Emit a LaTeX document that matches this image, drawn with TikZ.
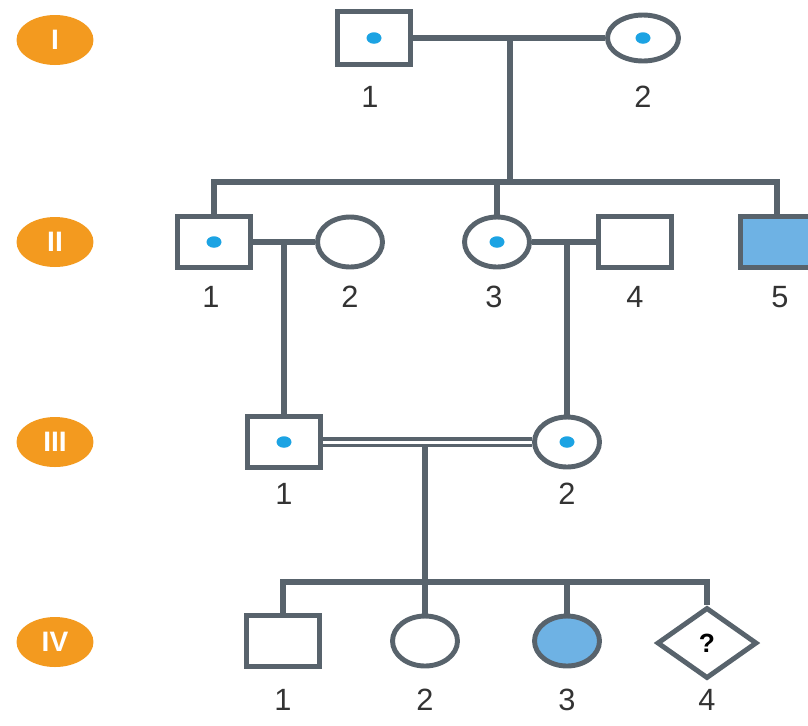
\documentclass[tikz,border=0pt]{standalone}
\usepackage{fontspec}
\setmainfont{Liberation Sans}
\usetikzlibrary{shapes.geometric, calc, positioning}
\definecolor{pedline}{HTML}{58636C}
\definecolor{pedfill}{HTML}{6EB2E4}
\definecolor{peddot}{HTML}{1CA3E3}
\definecolor{pedgen}{HTML}{F39A1F}

\begin{document}
\begin{tikzpicture}[x=0.02cm, y=-0.02cm,
  male/.style={draw=pedline, line width=3.2pt, rectangle, fill=white, minimum width=1.46cm, minimum height=1.02cm, inner sep=0pt},
  female/.style={draw=pedline, line width=2.8pt, ellipse, fill=white, minimum width=1.3cm, minimum height=1.0cm, inner sep=0pt},
  carrier/.style={path picture={\fill[peddot] (path picture bounding box.center) ellipse (0.15cm and 0.115cm);}},
  affected/.style={fill=pedfill},
  unknown/.style={draw=pedline, line width=2.8pt, diamond, fill=white, minimum width=2.0cm, minimum height=1.42cm, inner sep=0pt, font=\fontsize{15}{15}\selectfont\bfseries},
  genbadge/.style={ellipse, fill=pedgen, text=white, minimum width=1.54cm, minimum height=1.0cm, inner sep=0pt, font=\fontsize{16}{16}\selectfont\bfseries},
  num/.style={text=black!80, font=\fontsize{17.5}{17.5}\selectfont},
  pedlink/.style={draw=pedline, line width=2.9pt},
  consang/.style={draw=pedline, line width=2pt, double=white, double distance=1.7pt}]
  \useasboundingbox (0,0) rectangle (808,725);

  % generation markers
  \node[genbadge] (gI) at (55,40) {I};
  \node[genbadge] (gII) at (55,242) {II};
  \node[genbadge] (gIII) at (55,442) {III};
  \node[genbadge] (gIV) at (55,642) {IV};

  % generation I
  \node[male, carrier, minimum height=1.06cm] (I1) at (374,38) {};
  \node[female, carrier, minimum width=1.42cm, minimum height=0.92cm] (I2) at (643,38) {};
  \node[num] (I1n) at (370,97) {1};
  \node[num] (I2n) at (643,97) {2};

  % generation II
  \node[male, carrier] (II1) at (214,242) {};
  \node[female] (II2) at (350,242) {};
  \node[female, carrier] (II3) at (497,242) {};
  \node[male] (II4) at (635,242) {};
  \node[male, affected] (II5) at (777,242) {};
  \node[num] (II1n) at (211,297) {1};
  \node[num] (II2n) at (350,297) {2};
  \node[num] (II3n) at (494,297) {3};
  \node[num] (II4n) at (635,297) {4};
  \node[num] (II5n) at (780,297) {5};

  % generation III
  \node[male, carrier] (III1) at (284,442) {};
  \node[female, carrier] (III2) at (567,442) {};
  \node[num] (III1n) at (284,494) {1};
  \node[num] (III2n) at (567,494) {2};

  % generation IV
  \node[male] (IV1) at (283,641) {};
  \node[female] (IV2) at (425,641) {};
  \node[female, affected] (IV3) at (567,641) {};
  \node[unknown] (IV4) at (707,643) {?};
  \node[num] (IV1n) at (283,700) {1};
  \node[num] (IV2n) at (425,700) {2};
  \node[num] (IV3n) at (567,700) {3};
  \node[num] (IV4n) at (707,700) {4};

  % matings and sibships
  \coordinate (m1) at (510,38);
  \coordinate (sib2) at (510,182);
  \coordinate (m2a) at (284,242);
  \coordinate (m2b) at (567,242);
  \coordinate (m3) at (425,441);
  \coordinate (sib4) at (425,582);

  \draw[pedlink] (I1.east) -- (I2.west);
  \draw[pedlink] (m1) -- (sib2);
  \draw[pedlink] (II1.north) |- (sib2) -| (II5.north);
  \draw[pedlink] (II3.north) -- (II3.north |- sib2);

  \draw[pedlink] (II1.east) -- (II2.west);
  \draw[pedlink] (m2a) -- (III1.north);
  \draw[pedlink] (II3.east) -- (II4.west);
  \draw[pedlink] (m2b) -- (III2.north);

  \draw[pedlink] (m3) -- (IV2.north);
  \draw[consang] (III1.east) -- (III2.west);
  \draw[pedlink] (IV1.north) |- (sib4) -| (IV4.north);
  \draw[pedlink] (IV3.north) -- (IV3.north |- sib4);
\end{tikzpicture}
\end{document}
